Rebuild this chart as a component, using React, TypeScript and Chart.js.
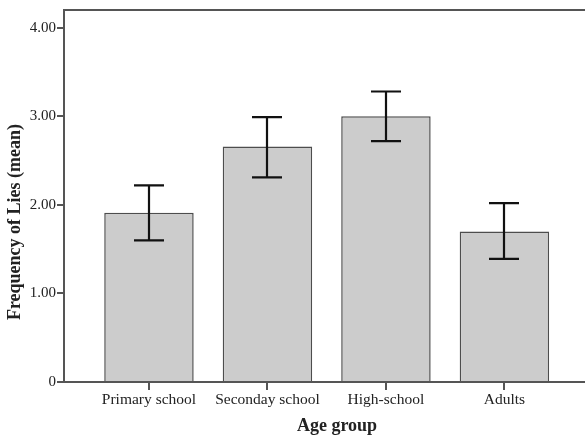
import React, { useEffect, useRef } from "react";
import { Chart, registerables } from "chart.js";

Chart.register(...registerables);

const categories = ["Primary school", "Seconday school", "High-school", "Adults"];
const means = [1.91, 2.66, 3.0, 1.7];
const lowerCI = [1.6, 2.31, 2.72, 1.39];
const upperCI = [2.22, 2.99, 3.28, 2.02];
const yTickValues = [0, 1, 2, 3, 4];
const xTitle = "Age group";
const yTitle = "Frequency of Lies (mean)";

const FONT = "'Liberation Serif', 'DejaVu Serif', serif";

const extrasPlugin = {
  id: "extras",
  afterDatasetsDraw(chart: any) {
    const { ctx, scales } = chart;
    const xs = scales.x;
    const ys = scales.y;
    ctx.save();
    ctx.strokeStyle = "#111";
    ctx.lineWidth = 2.2;
    for (let i = 0; i < means.length; i++) {
      const x = Math.round(xs.getPixelForValue(i));
      const yt = ys.getPixelForValue(upperCI[i]);
      const yb = ys.getPixelForValue(lowerCI[i]);
      ctx.beginPath();
      ctx.moveTo(x, yt);
      ctx.lineTo(x, yb);
      ctx.moveTo(x - 15, yt);
      ctx.lineTo(x + 15, yt);
      ctx.moveTo(x - 15, yb);
      ctx.lineTo(x + 15, yb);
      ctx.stroke();
    }
    ctx.restore();
  },
  afterDraw(chart: any) {
    const { ctx, chartArea } = chart;
    ctx.save();
    ctx.strokeStyle = "#555";
    ctx.lineWidth = 2;
    ctx.beginPath();
    ctx.moveTo(chartArea.left - 1, chartArea.top);
    ctx.lineTo(chartArea.right, chartArea.top);
    ctx.stroke();
    ctx.fillStyle = "#222";
    ctx.font = `bold 18px ${FONT}`;
    ctx.textAlign = "center";
    ctx.textBaseline = "middle";
    ctx.fillText(xTitle, 337, 426);
    ctx.translate(15, 222);
    ctx.rotate(-Math.PI / 2);
    ctx.fillText(yTitle, 0, 0);
    ctx.restore();
  },
};

export default function App() {
  const ref = useRef<HTMLCanvasElement | null>(null);
  useEffect(() => {
    if (!ref.current) return;
    const chart = new Chart(ref.current, {
      type: "bar",
      data: {
        datasets: [
          {
            data: means.map((y, i) => ({ x: i, y })),
            backgroundColor: "#cccccc",
            borderColor: "#4d4d4d",
            borderWidth: 1.5,
            categoryPercentage: 1,
            barPercentage: 0.755,
          },
        ],
      },
      options: {
        responsive: false,
        devicePixelRatio: 1,
        animation: false,
        layout: { autoPadding: false, padding: { top: 7, left: 0, right: 0, bottom: 0 } },
        plugins: { legend: { display: false }, tooltip: { enabled: false } },
        scales: {
          x: {
            type: "linear",
            min: -0.717,
            max: 3.68,
            offset: false,
            grid: {
              display: true,
              offset: false,
              drawOnChartArea: false,
              drawTicks: true,
              tickLength: 8,
              color: "#555",
              lineWidth: 2,
            },
            border: { display: true, color: "#555", width: 2 },
            afterBuildTicks: (s: any) => {
              s.ticks = categories.map((_, i) => ({ value: i }));
            },
            afterFit: (s: any) => {
              s.height = 54;
            },
            ticks: {
              autoSkip: false,
              maxRotation: 0,
              padding: 1,
              color: "#222",
              font: { family: FONT, size: 15.5 },
              callback: (v: any) => categories[v as number] ?? "",
            },
          },
          y: {
            type: "linear",
            min: 0,
            max: 4.2,
            grid: {
              display: true,
              drawOnChartArea: false,
              drawTicks: true,
              tickLength: 7,
              color: "#555",
              lineWidth: 2,
            },
            border: { display: true, color: "#555", width: 2 },
            afterBuildTicks: (s: any) => {
              s.ticks = yTickValues.map((v) => ({ value: v }));
            },
            afterFit: (s: any) => {
              s.width = 64;
            },
            ticks: {
              padding: 1,
              color: "#222",
              font: { family: FONT, size: 15 },
              callback: (v: any) => (v === 0 ? "0" : Number(v).toFixed(2)),
            },
          },
        },
      },
      plugins: [extrasPlugin],
    });
    return () => chart.destroy();
  }, []);
  return (
    <div style={{ position: "fixed", left: 0, top: 0, width: 585, height: 436, background: "#fff" }}>
      <canvas ref={ref} width={585} height={436} style={{ display: "block" }} />
    </div>
  );
}
